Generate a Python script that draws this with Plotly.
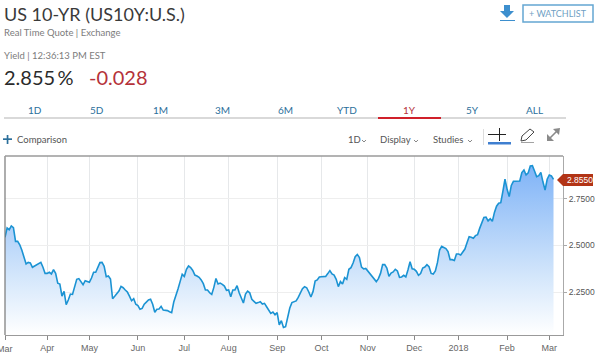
import pandas as pd
import plotly.graph_objects as go

yields = [
2.544,2.594,2.585,2.605,2.596,2.522,2.522,2.504,2.474,2.438,2.401,2.409,2.406,2.383,2.390,2.397,2.404,2.409,2.383,2.350,
2.350,2.356,2.347,2.370,2.350,2.297,2.293,2.228,2.254,2.182,2.207,2.239,2.237,2.277,2.318,2.322,2.307,2.289,2.311,2.306,
2.302,2.325,2.356,2.356,2.388,2.408,2.409,2.388,2.332,2.336,2.320,2.214,2.227,2.239,2.255,2.280,2.273,2.261,2.250,2.228,
2.203,2.214,2.184,2.177,2.157,2.162,2.185,2.196,2.207,2.211,2.184,2.141,2.157,2.159,2.173,2.153,2.153,2.150,2.144,2.139,
2.196,2.228,2.266,2.306,2.345,2.334,2.372,2.390,2.381,2.366,2.341,2.336,2.329,
2.315,2.295,2.261,2.261,2.246,2.237,2.275,2.323,2.293,2.298,2.291,2.282,2.259,2.261,2.225,2.261,2.261,2.284,2.246,2.216,
2.191,2.239,2.255,2.246,2.211,2.200,2.189,2.193,2.198,2.185,2.189,2.171,2.153,2.135,2.142,2.128,2.139,2.073,2.096,2.060,
2.064,2.125,2.164,2.193,2.198,2.202,2.221,2.246,2.268,2.279,2.273,2.250,2.223,2.252,2.309,2.315,2.331,2.332,2.331,2.334,
2.349,2.365,2.347,2.341,2.318,2.279,2.306,2.293,2.327,2.318,2.372,2.381,2.406,2.440,2.452,2.435,2.384,2.374,2.377,2.363,
2.347,2.336,2.320,2.306,2.322,2.350,2.397,2.397,2.379,2.334,2.352,2.358,2.372,2.363,2.329,
2.331,2.340,2.331,2.368,2.413,2.375,2.372,2.361,2.340,2.349,2.379,2.384,2.397,2.386,2.350,2.347,2.363,2.409,2.476,2.495,
2.490,2.483,2.467,2.424,2.424,2.420,2.454,2.454,2.449,2.467,2.481,2.515,2.547,2.544,2.539,2.553,2.558,2.592,2.623,2.651,
2.653,2.632,2.644,2.630,2.678,2.711,2.727,2.730,2.791,2.856,2.802,2.763,2.823,2.845,2.845,2.845,2.847,2.892,2.906,2.879,
2.890,2.927,2.929,2.900,2.870,2.875,2.893,2.841,2.798,2.856,2.879,2.874,2.855,
]
dates = pd.bdate_range("2017-03-06", "2018-03-05")
assert len(dates) == len(yields), (len(dates), len(yields))

month_ticks = ["2017-03-06","2017-04-03","2017-05-01","2017-06-01","2017-07-03","2017-08-01","2017-09-01",
               "2017-10-02","2017-11-01","2017-12-01","2018-01-01","2018-02-01","2018-03-01"]
month_labels = ["Mar","Apr","May","Jun","Jul","Aug","Sep","Oct","Nov","Dec","2018","Feb","Mar"]
yield_ticks = [2.25, 2.50, 2.75]
range_tabs = ["1D","5D","1M","3M","6M","YTD","1Y","5Y","ALL"]
title = "US 10-YR (US10Y:U.S.)"

W, H = 600, 358
L, R, T, B = 5, 563, 156, 335
px = lambda x: (x - L) / (R - L)
py = lambda y: (B - y) / (B - T)
FONT = "Lato"
BLUE = "#2b6f9b"

fig = go.Figure()
fig.add_trace(go.Scatter(
    x=dates, y=yields, mode="lines",
    line=dict(color="#1b93d3", width=1.6),
    fill="tozeroy",
    fillgradient=dict(type="vertical", start=2.93, stop=2.02,
                      colorscale=[[0, "#7fb3f7"], [0.65, "#d3e6fb"], [1, "#ffffff"]]),
    hoverinfo="skip", showlegend=False,
))

ann = []
def text(x, y, s, size, color, anchor="left", family=FONT):
    ann.append(dict(xref="paper", yref="paper", x=px(x), y=py(y), text=s, showarrow=False,
                    xanchor=anchor, yanchor="middle", xshift=0, borderpad=0,
                    font=dict(size=size, color=color, family=family)))

text(3, 14, title, 18, "#3a3a3a")
text(3, 32, "Real Time Quote | Exchange", 9.5, "#7c7c7c")
text(3, 56, "Yield | 12:36:13 PM EST", 9.5, "#7c7c7c")
text(3, 77, "2.855\u2009%", 20, "#2b2b2b")
text(88, 77, "-0.028", 20, "#b5323a")
for xc, s in zip([35, 97, 160, 222, 285, 347, 409, 472, 534], range_tabs):
    text(xc, 110, s, 10, "#b5323a" if s == "1Y" else BLUE, "center")
text(16, 139, "Comparison", 9.5, "#555555")
text(347, 139, "1D", 9.5, "#555555")
text(379, 139, "Display", 9.5, "#555555")
text(432, 139, "Studies", 9.5, "#555555")
text(580, 180, "2.8550", 8.5, "#ffffff", "center", "Liberation Sans")
text(558, 13, "+ WATCHLIST", 9, "#6f9fc4", "center")
text(5, 349, month_labels[0], 9, "#666666", "center", "Liberation Sans")

shapes = []
def rect(x0, y0, x1, y1, color, line=None, **kw):
    shapes.append(dict(type="rect", xref="paper", yref="paper", x0=px(x0), x1=px(x1), y0=py(y0), y1=py(y1),
                       fillcolor=color, line=dict(width=0 if line is None else 1.5, color=line or color), **kw))
def path(points, color=None, line=None, width=1, closed=False):
    d = "M " + " L ".join(f"{px(a):.5f},{py(b):.5f}" for a, b in points) + (" Z" if closed else "")
    shapes.append(dict(type="path", xref="paper", yref="paper", path=d, fillcolor=color,
                       line=dict(color=line or color, width=width if line else 0)))

rect(4, 117, 566, 119, "#d9d9d9")
rect(378, 117, 441, 119, "#d0202a")
rect(3, 138.3, 12, 140, "#2b6f9b"); rect(6.7, 135, 8.4, 144, "#2b6f9b")
path([(504, 5), (510, 5), (510, 11), (514, 11), (507, 18), (500, 11), (504, 11)], "#3d8fce", closed=True)
rect(500, 20, 515, 21, "#3d8fce")
shapes.append(dict(type="rect", xref="paper", yref="paper", x0=px(523), x1=px(593), y0=py(22), y1=py(5),
                   line=dict(color="#64a7d2", width=1.5), fillcolor="rgba(0,0,0,0)"))
for cx in [364, 416, 470]:
    path([(cx - 2, 140), (cx, 142), (cx + 2, 140)], line="#888888")
rect(483, 129, 484, 145, "#dddddd")
rect(488, 134, 506, 135, "#222222"); rect(499, 128, 500, 141, "#222222")
rect(488, 142, 511, 144.5, "#3f7fd0")
path([(521, 141), (522, 136), (530, 129), (534, 132), (526, 140), (521, 141)], line="#444444", width=1)
rect(521, 142, 534, 142.6, "#666666")
path([(548, 140), (558, 130)], line="#8a8a8a", width=1.6)
path([(553, 129), (560, 128), (559, 135)], "#8a8a8a", closed=True)
path([(547, 134), (547, 141), (554, 141)], "#8a8a8a", closed=True)
path([(557, 180), (563, 174), (593, 174), (593, 186), (563, 186)], "#b23416", closed=True)
path([(L, T), (L, B)], line="#777777", width=1.2)
path([(L, T), (R, T)], line="#9a9a9a", width=1.5)

fig.update_layout(
    width=W, height=H, autosize=False,
    margin=dict(l=L, r=W - R, t=T, b=H - B, pad=0),
    paper_bgcolor="#ffffff", plot_bgcolor="#ffffff",
    annotations=ann, shapes=shapes,
    xaxis=dict(type="date", range=["2017-03-06", "2018-03-09 12:00"],
               rangebreaks=[dict(bounds=["sat", "mon"])],
               tickmode="array", tickvals=month_ticks, ticktext=month_labels, tickangle=0,
               ticks="outside", ticklen=4, tickcolor="#888888",
               showgrid=True, gridcolor="#e6e8ea", gridwidth=1,
               showline=True, linecolor="#9a9a9a", linewidth=1, mirror=False, zeroline=False,
               tickfont=dict(size=9, color="#666666", family="Liberation Sans")),
    yaxis=dict(range=[2.019, 2.981], side="right",
               tickmode="array", tickvals=yield_ticks, tickformat=".4f",
               ticks="outside", ticklen=3, tickcolor="#aaaaaa",
               showgrid=True, gridcolor="#eeeeee", gridwidth=1,
               showline=True, linecolor="#aaaaaa", linewidth=1, zeroline=False,
               tickfont=dict(size=8.5, color="#555555", family="Liberation Sans")),
)

fig.write_html("out.html", config=dict(displayModeBar=False),
               post_script="document.body.style.margin='0';document.body.style.overflow='hidden';")
